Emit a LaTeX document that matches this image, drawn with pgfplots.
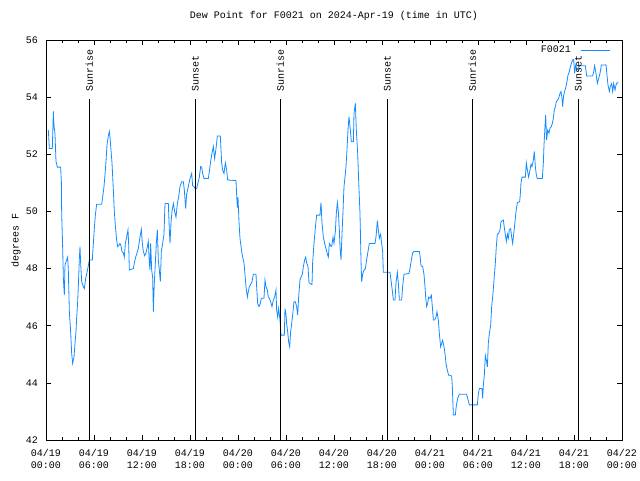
\documentclass[border=0pt]{standalone}
\usepackage{fontspec}
\setmainfont{Liberation Mono}
\usepackage{pgfplots}
\pgfplotsset{compat=1.18}
\definecolor{dew}{RGB}{20,140,255}
\begin{document}
\fontsize{10}{12}\selectfont
\begin{tikzpicture}
\useasboundingbox (-46pt,-40pt) rectangle (594pt,440pt);
\begin{axis}[
  at={(0pt,0pt)}, anchor=south west,
  scale only axis, width=576pt, height=400pt,
  xmin=0, xmax=72, ymin=42, ymax=56,
  xtick={0,6,...,72}, minor x tick num=2,
  xticklabels={{04/19\\00:00},{04/19\\06:00},{04/19\\12:00},{04/19\\18:00},{04/20\\00:00},{04/20\\06:00},{04/20\\12:00},{04/20\\18:00},{04/21\\00:00},{04/21\\06:00},{04/21\\12:00},{04/21\\18:00},{04/22\\00:00}},
  xticklabel style={align=center, yshift=-6pt, font=\fontsize{10}{12}\selectfont},
  ytick={42,44,...,56},
  yticklabel style={xshift=-4.5pt},
  /pgf/number format/assume math mode=true,
  tick align=inside,
  major tick length=5pt, minor tick length=3pt,
  tick style={black, line width=0.6pt},
  axis line style={black, line width=0.8pt},
  title={Dew Point for F0021 on 2024-Apr-19 (time in UTC)},
  title style={at={(0.5,1)}, anchor=base, yshift=15pt},
  ylabel={degrees F},
  ylabel style={at={(axis description cs:0,0.5)}, anchor=center, rotate=0, yshift=30pt},
  legend style={draw=none, fill=none, at={(1,1)}, anchor=north east, xshift=-11pt, yshift=-4pt, inner sep=0pt, column sep=8pt},
  legend plot pos=right,
  legend cell align=right,
  legend image code/.code={\draw[#1] (0pt,0pt) -- (29pt,0pt);},
]
\addplot[dew, line width=0.8pt] coordinates {
(0.29,52.85) (0.42,52.2) (0.79,52.2) (0.92,53.5) (1.0,53.0) (1.125,52.7) (1.25,51.75) (1.42,51.55) (1.83,51.55) (1.92,51.04) (1.96,49.93) (2.08,48.77) (2.17,47.66) (2.29,47.07) (2.375,48.13) (2.58,48.3) (2.71,48.4) (2.79,47.95) (2.92,46.49) (3.08,45.79) (3.21,45.03) (3.33,44.68) (3.5,44.9) (3.625,45.38) (3.75,45.8) (3.83,46.26) (3.96,46.84) (4.08,47.66) (4.17,48.36) (4.25,48.77) (4.33,48.2) (4.46,47.54) (4.67,47.37) (4.79,47.3) (4.96,47.66) (5.08,47.8) (5.29,48.1) (5.42,48.3) (5.79,48.3) (5.92,48.88) (6.04,49.4) (6.17,49.87) (6.33,50.25) (6.96,50.25) (7.08,50.5) (7.25,50.87) (7.375,51.28) (7.5,51.75) (7.625,52.32) (7.79,52.64) (7.92,52.8) (8.0,52.6) (8.125,52.15) (8.25,51.7) (8.42,50.75) (8.54,50.0) (8.67,49.5) (8.83,49.0) (8.96,48.77) (9.08,48.8) (9.25,48.88) (9.375,48.8) (9.5,48.6) (9.67,48.55) (9.79,48.4) (9.92,48.88) (10.08,49.1) (10.25,49.35) (10.33,48.88) (10.42,47.95) (10.92,48.0) (11.04,48.2) (11.21,48.4) (11.33,48.5) (11.54,48.7) (11.75,49.1) (11.92,49.37) (12.04,48.88) (12.17,48.6) (12.33,48.45) (12.5,48.55) (12.67,48.77) (12.79,48.95) (12.92,48.2) (13.0,47.95) (13.08,48.88) (13.21,47.95) (13.33,47.7) (13.42,46.49) (13.54,47.5) (13.67,48.2) (13.79,48.88) (13.92,49.35) (14.04,48.3) (14.17,47.95) (14.29,47.54) (14.42,48.6) (14.58,48.88) (14.75,49.2) (14.875,50.28) (15.29,50.28) (15.42,49.35) (15.5,48.88) (15.625,49.6) (15.75,50.0) (15.92,50.28) (16.08,50.0) (16.25,49.8) (16.42,50.28) (16.58,50.5) (16.75,50.87) (16.96,51.04) (17.17,51.04) (17.29,50.75) (17.46,50.1) (17.58,50.6) (17.79,50.87) (18.0,51.15) (18.21,51.33) (18.33,50.9) (18.5,50.87) (18.67,50.78) (18.83,50.8) (19.0,51.0) (19.17,51.2) (19.33,51.57) (19.46,51.55) (19.58,51.33) (19.75,51.15) (20.29,51.15) (20.42,51.4) (20.58,51.75) (20.75,52.04) (20.92,52.27) (21.08,51.85) (21.25,52.2) (21.42,52.64) (21.79,52.64) (21.96,51.7) (22.08,51.45) (22.25,51.33) (22.42,51.7) (22.58,51.45) (22.71,51.1)
(23.75,51.08) (23.83,50.6) (23.92,50.13) (24.0,50.5) (24.125,49.64) (24.25,49.06) (24.46,48.6) (24.58,48.4) (24.75,48.2) (24.875,47.8) (25.0,47.37) (25.17,47.0) (25.29,47.2) (25.42,47.37) (25.58,47.44) (25.75,47.54) (25.92,47.8) (26.25,47.8) (26.33,47.37) (26.46,46.78) (26.625,46.67) (26.79,46.78) (26.92,46.96) (27.25,46.96) (27.375,47.6) (27.5,47.37) (27.67,47.25) (27.79,47.0) (27.92,46.96) (28.08,46.84) (28.25,46.67) (28.42,46.9) (28.58,47.0) (28.75,47.25) (28.83,46.55) (28.96,46.3) (29.08,46.6) (29.25,46.2) (29.375,45.67) (29.79,45.67) (29.875,46.6) (30.0,46.4) (30.08,46.07) (30.21,45.79) (30.33,45.44) (30.46,45.26) (30.58,45.79) (30.71,46.07) (30.83,46.37) (31.0,46.84) (31.17,46.84) (31.33,46.67) (31.46,46.37) (31.58,47.0) (31.75,47.6) (31.875,47.7) (32.04,47.8) (32.17,48.07) (32.33,48.3) (32.46,48.4) (32.58,48.2) (32.75,48.07) (32.875,47.5) (33.25,47.44) (33.33,48.2) (33.5,48.88) (33.67,49.43) (33.83,49.87) (34.25,49.87) (34.375,50.31) (34.5,49.6) (34.67,49.1) (34.83,48.88) (35.0,48.7) (35.17,48.5) (35.29,48.4) (35.42,48.88) (35.58,48.8) (35.71,48.77) (35.875,49.1) (36.0,48.88) (36.17,49.3) (36.29,49.93) (36.42,50.31) (36.54,50.0) (36.67,49.35) (36.75,48.77) (36.875,48.3) (37.0,49.2) (37.125,50.0) (37.25,50.87) (37.375,51.2) (37.5,51.57) (37.625,52.15) (37.75,52.85) (37.875,53.32) (38.0,52.97) (38.17,52.44) (38.42,52.44) (38.5,53.43) (38.67,53.78) (38.79,52.85) (38.96,52.04) (39.08,51.1) (39.25,49.93) (39.375,48.3) (39.46,47.54) (39.58,47.8) (39.75,47.95) (39.92,48.0) (40.08,48.3) (40.25,48.6) (40.42,48.88) (41.125,48.88) (41.25,49.1) (41.42,49.68) (41.54,49.35) (41.67,49.06) (41.83,49.2) (41.96,48.88) (42.08,48.6) (42.17,47.87) (43.0,47.87) (43.17,47.5) (43.33,47.13) (43.42,46.9) (43.625,46.9) (43.75,47.5) (43.92,47.87) (44.04,47.5) (44.17,46.9) (44.46,46.9) (44.58,47.37) (44.75,47.8) (45.375,47.83) (45.5,48.0) (45.67,48.3) (45.83,48.55) (46.0,48.6) (46.67,48.6)
(46.75,48.47) (46.875,48.1) (47.08,48.07) (47.25,47.8) (47.375,47.37) (47.46,47.0) (47.58,46.67) (47.71,46.78) (47.83,47.0) (48.0,46.96) (48.17,47.07) (48.29,46.67) (48.42,46.2) (48.58,46.2) (48.75,46.3) (48.875,46.49) (49.04,46.2) (49.17,45.73) (49.33,45.26) (49.46,45.38) (49.58,45.49) (49.75,45.26) (49.875,45.03) (50.0,44.68) (50.17,44.44) (50.33,44.27) (50.71,44.24) (50.79,43.87) (50.92,42.88) (51.17,42.88) (51.29,43.2) (51.46,43.46) (51.67,43.6) (52.58,43.6) (52.71,43.46) (52.92,43.23) (53.92,43.23) (54.04,43.6) (54.17,43.8) (54.5,43.8) (54.58,43.46) (54.67,43.92) (54.79,44.27) (54.92,44.96) (55.04,44.8) (55.17,44.56) (55.29,45.38) (55.42,45.73) (55.58,46.0) (55.71,46.67) (55.875,47.13) (56.0,47.6) (56.17,48.2) (56.29,48.77) (56.42,49.2) (56.58,49.23) (56.75,49.35) (56.875,49.64) (57.17,49.7) (57.29,49.43) (57.42,49.2) (57.54,48.95) (57.67,49.2) (57.79,49.06) (57.92,49.37) (58.08,49.4) (58.21,49.1) (58.33,48.88) (58.46,49.2) (58.625,49.64) (58.75,50.0) (58.92,50.31) (59.21,50.34) (59.29,50.6) (59.375,51.0) (59.5,51.2) (59.92,51.2) (60.04,51.7) (60.17,51.45) (60.33,51.2) (60.5,51.45) (60.625,51.65) (60.75,51.57) (60.92,51.8) (61.04,52.1) (61.17,51.57) (61.29,51.28) (61.42,51.15) (62.04,51.15) (62.17,51.7) (62.25,52.32) (62.375,52.97) (62.46,53.38) (62.58,52.5) (62.71,52.85) (62.875,52.74) (63.0,52.91) (63.17,52.97) (63.29,53.08) (63.42,53.26) (63.54,53.55) (63.67,53.67) (63.79,53.84) (63.96,53.9) (64.08,53.96) (64.25,54.13) (64.375,54.2) (64.5,53.96) (64.58,53.67) (64.71,54.07) (64.83,54.2) (65.0,54.37) (65.125,54.54) (65.25,54.77) (65.42,54.89) (65.54,55.06) (65.67,55.18) (65.83,55.3) (65.96,55.32) (66.08,54.83) (66.21,55.12) (66.33,55.0) (66.5,54.95) (66.67,55.1) (67.42,55.1) (67.58,54.74) (68.33,54.74) (68.46,54.89) (68.58,55.1) (68.75,54.83) (68.92,54.48) (69.08,54.65) (69.25,54.83) (69.42,55.12) (70.0,55.13) (70.125,54.77) (70.25,54.42) (70.42,54.2) (70.54,54.37) (70.71,54.48) (70.83,54.2) (70.96,54.48) (71.125,54.25) (71.25,54.42) (71.375,54.5) (71.54,54.5)
};
\addlegendentry{F0021}
\addplot[black, line width=0.8pt, forget plot] coordinates {(5.42,42) (5.42,53.92)};
\addplot[black, line width=0.8pt, forget plot] coordinates {(18.67,42) (18.67,53.92)};
\addplot[black, line width=0.8pt, forget plot] coordinates {(29.3,42) (29.3,53.92)};
\addplot[black, line width=0.8pt, forget plot] coordinates {(42.67,42) (42.67,53.92)};
\addplot[black, line width=0.8pt, forget plot] coordinates {(53.3,42) (53.3,53.92)};
\addplot[black, line width=0.8pt, forget plot] coordinates {(66.55,42) (66.55,53.92)};
\node[rotate=90, anchor=west, inner sep=0pt] at (axis cs:5.42,54.18) {Sunrise};
\node[rotate=90, anchor=west, inner sep=0pt] at (axis cs:18.67,54.18) {Sunset};
\node[rotate=90, anchor=west, inner sep=0pt] at (axis cs:29.3,54.18) {Sunrise};
\node[rotate=90, anchor=west, inner sep=0pt] at (axis cs:42.67,54.18) {Sunset};
\node[rotate=90, anchor=west, inner sep=0pt] at (axis cs:53.3,54.18) {Sunrise};
\node[rotate=90, anchor=west, inner sep=0pt] at (axis cs:66.55,54.18) {Sunset};
\end{axis}
\end{tikzpicture}
\end{document}
